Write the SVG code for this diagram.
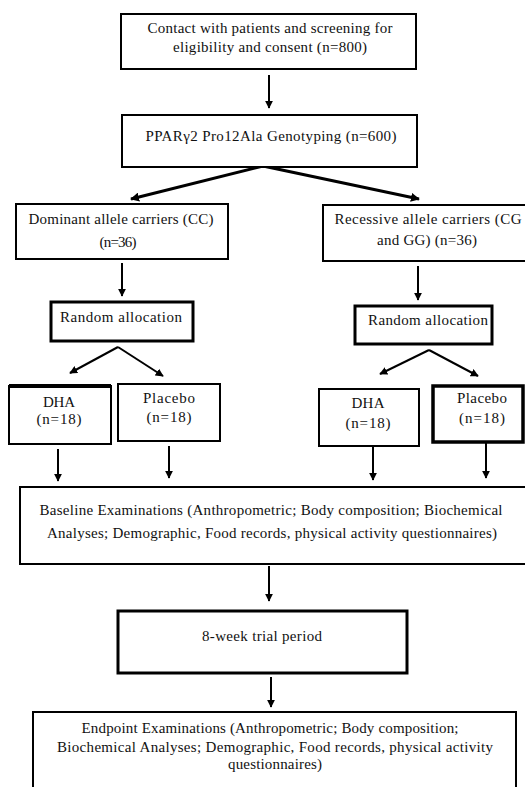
<svg xmlns="http://www.w3.org/2000/svg" width="525" height="787" viewBox="0 0 525 787">
<defs>
<style>
.b{fill:#fff;stroke:#000;stroke-width:2}
.bt{fill:#fff;stroke:#000;stroke-width:3}
.t{font-family:'Liberation Serif','Times New Roman','DejaVu Serif',serif;font-size:15px;fill:#111;text-anchor:middle}
.c{stroke:#000;stroke-width:2;fill:none;marker-end:url(#ah)}
.ct{stroke:#000;stroke-width:3;fill:none;marker-end:url(#ah2)}
</style>
<marker id="ah" viewBox="0 0 10 10" refX="9" refY="5" markerWidth="4" markerHeight="4" orient="auto" markerUnits="strokeWidth">
<path d="M0,0 L10,5 L0,10 z" fill="#000"/>
</marker>
<marker id="ah2" viewBox="0 0 10 10" refX="9" refY="5" markerWidth="3" markerHeight="3" orient="auto" markerUnits="strokeWidth">
<path d="M0,0 L10,5 L0,10 z" fill="#000"/>
</marker>
</defs>
<rect width="525" height="787" fill="#fff"/>
<g id="connectors">
<line class="c" x1="269" y1="75" x2="269" y2="108"/>
<line class="ct" x1="263" y1="166" x2="131" y2="199"/>
<line class="ct" x1="263" y1="166" x2="419" y2="199"/>
<line class="c" x1="122" y1="263" x2="122" y2="296"/>
<line class="c" x1="418" y1="266" x2="418" y2="300"/>
<line class="c" x1="118" y1="347" x2="70" y2="373"/>
<line class="c" x1="118" y1="347" x2="163" y2="376"/>
<line class="c" x1="429" y1="350" x2="380" y2="374"/>
<line class="c" x1="429" y1="350" x2="478" y2="376"/>
<line class="c" x1="58" y1="449" x2="58" y2="481"/>
<line class="c" x1="169" y1="446" x2="169" y2="478"/>
<line class="c" x1="373" y1="447" x2="373" y2="480"/>
<line class="c" x1="486" y1="443" x2="486" y2="478"/>
<line class="c" x1="269" y1="566" x2="269" y2="601"/>
<line class="c" x1="271" y1="677" x2="271" y2="707"/>
</g>
<g id="contact">
<rect class="b" x="121" y="14" width="295" height="55"/>
<text class="t" x="270" y="33" textLength="245" lengthAdjust="spacing">Contact with patients and screening for</text>
<text class="t" x="270" y="52" textLength="194" lengthAdjust="spacing">eligibility and consent (n=800)</text>
</g>
<g id="genotyping">
<rect class="b" x="122" y="115" width="295" height="52"/>
<text class="t" x="271" y="141" textLength="251" lengthAdjust="spacing">PPARγ2 Pro12Ala Genotyping (n=600)</text>
</g>
<g id="dominant">
<rect class="b" x="16" y="204" width="212" height="55"/>
<text class="t" x="121" y="224" textLength="185" lengthAdjust="spacing">Dominant allele carriers (CC)</text>
<text class="t" x="118" y="247" textLength="37" lengthAdjust="spacing">(n=36)</text>
</g>
<g id="recessive">
<rect class="b" x="323" y="205" width="210" height="56"/>
<text class="t" x="428" y="224" textLength="187" lengthAdjust="spacing">Recessive allele carriers (CG</text>
<text class="t" x="427" y="245" textLength="100" lengthAdjust="spacing">and GG) (n=36)</text>
</g>
<g id="random-left">
<rect class="bt" x="51" y="302" width="142" height="39"/>
<text class="t" x="121" y="322" textLength="122" lengthAdjust="spacing">Random allocation</text>
</g>
<g id="random-right">
<rect class="bt" x="355" y="306" width="137" height="38"/>
<text class="t" x="428" y="325" textLength="120" lengthAdjust="spacing">Random allocation</text>
</g>
<g id="dha-left">
<rect class="b" x="9" y="386" width="102" height="58"/>
<line x1="9" y1="386" x2="111" y2="386" stroke="#000" stroke-width="4"/>
<text class="t" x="59" y="407" textLength="32" lengthAdjust="spacing">DHA</text>
<text class="t" x="59" y="424" textLength="45" lengthAdjust="spacing">(n=18)</text>
</g>
<g id="placebo-left">
<rect class="b" x="118" y="384" width="102" height="57"/>
<text class="t" x="169" y="403" textLength="52" lengthAdjust="spacing">Placebo</text>
<text class="t" x="169" y="422" textLength="45" lengthAdjust="spacing">(n=18)</text>
</g>
<g id="dha-right">
<rect class="b" x="319" y="389" width="100" height="57"/>
<text class="t" x="368" y="408" textLength="33" lengthAdjust="spacing">DHA</text>
<text class="t" x="368" y="428" textLength="45" lengthAdjust="spacing">(n=18)</text>
</g>
<g id="placebo-right">
<rect x="433" y="386" width="90" height="56" fill="#fff" stroke="#000" stroke-width="3.5"/>
<text class="t" x="482" y="403" textLength="50" lengthAdjust="spacing">Placebo</text>
<text class="t" x="482" y="423" textLength="46" lengthAdjust="spacing">(n=18)</text>
</g>
<g id="baseline">
<rect class="b" x="20" y="487" width="515" height="77"/>
<text class="t" x="271" y="515" textLength="463" lengthAdjust="spacing">Baseline Examinations (Anthropometric; Body composition; Biochemical</text>
<text class="t" x="272" y="538" textLength="450" lengthAdjust="spacing">Analyses; Demographic, Food records, physical activity questionnaires)</text>
</g>
<g id="trial">
<rect class="bt" x="118" y="611" width="289" height="62"/>
<text class="t" x="262" y="641" textLength="120" lengthAdjust="spacing">8-week trial period</text>
</g>
<g id="endpoint">
<rect class="b" x="33" y="712" width="483" height="90"/>
<text class="t" x="270" y="733" textLength="377" lengthAdjust="spacing">Endpoint Examinations (Anthropometric; Body composition;</text>
<text class="t" x="275" y="752" textLength="436" lengthAdjust="spacing">Biochemical Analyses; Demographic, Food records, physical activity</text>
<text class="t" x="275" y="769" textLength="94" lengthAdjust="spacing">questionnaires)</text>
</g>
</svg>
